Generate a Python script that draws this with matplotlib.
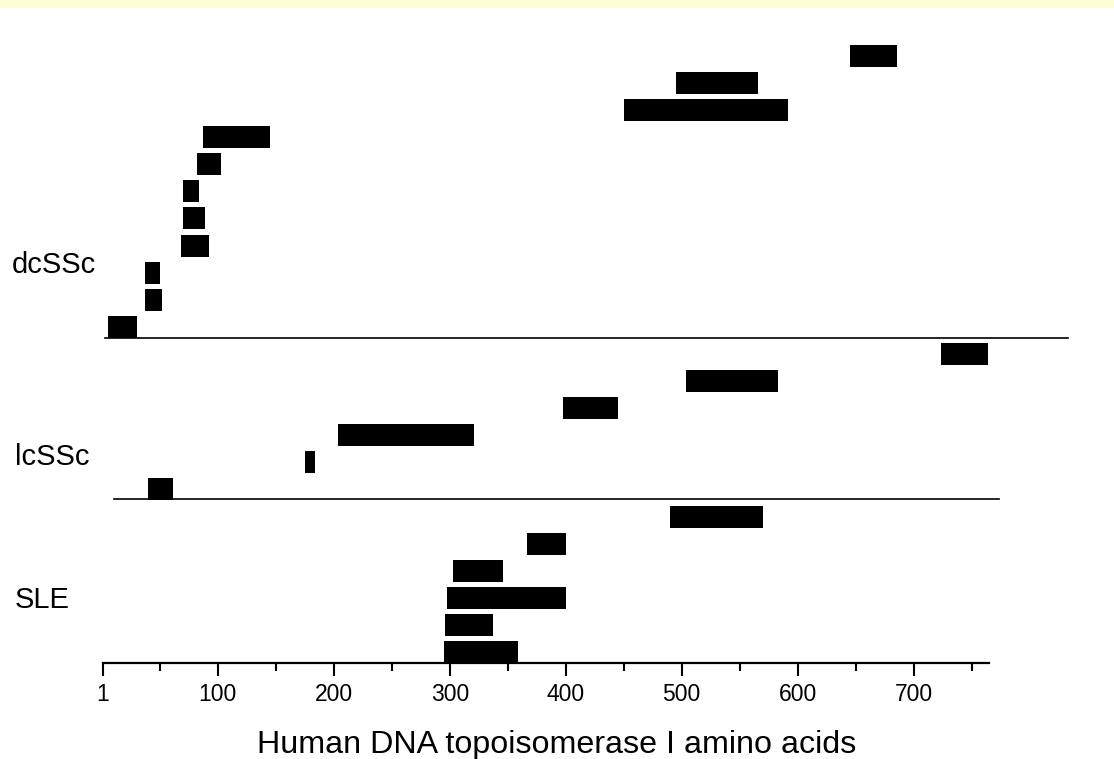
import matplotlib
matplotlib.use("Agg")
import matplotlib.pyplot as plt
from matplotlib.patches import Rectangle
from matplotlib.ticker import FixedLocator

# ---- data (amino-acid ranges of each fragment, bottom row first) ----
dcssc_start = [5, 37, 37, 68, 70, 70, 82, 87, 450, 495, 645]
dcssc_end   = [30, 52, 50, 92, 89, 84, 103, 145, 592, 566, 686]
lcssc_start = [40, 175, 204, 398, 504, 724]
lcssc_end   = [61, 184, 321, 445, 583, 764]
sle_start   = [295, 296, 298, 303, 367, 490]
sle_end     = [359, 337, 400, 346, 400, 570]
group_names = ["dcSSc", "lcSSc", "SLE"]
tick_values = [1, 100, 200, 300, 400, 500, 600, 700]
minor_ticks = [50, 150, 250, 350, 450, 550, 650, 750]
xlabel_text = "Human DNA topoisomerase I amino acids"

plt.rcParams['font.family'] = ['Liberation Sans', 'DejaVu Sans']

W, H = 1114, 759
fig = plt.figure(figsize=(W / 100, H / 100), dpi=100)
fig.patch.set_facecolor('white')

# light yellow strip at top
fig.patches.append(Rectangle((0, 1 - 8 / H), 1, 8 / H, transform=fig.transFigure,
                             facecolor='#FFFFD5', edgecolor='none', zorder=0))

# axes geometry (pixels)
x0_px, x1_px = 103, 989
y0_px = 663
row_px = 27.1
ymax = 23.5
ax = fig.add_axes([x0_px / W, (H - y0_px) / H, (x1_px - x0_px) / W, ymax * row_px / H])
ax.set_xlim(1, 765)
ax.set_ylim(0, ymax)
ax.patch.set_alpha(0)

bar_h = 0.81
groups = [(sle_start, sle_end, 0), (lcssc_start, lcssc_end, 6), (dcssc_start, dcssc_end, 12)]
for starts, ends, base in groups:
    for i, (s, e) in enumerate(zip(starts, ends)):
        ax.barh(base + i, e - s, left=s, height=bar_h, align='edge',
                color='black', edgecolor='none')

# separator lines between groups
ax.plot([2.7, 833], [12, 12], color='black', lw=1.2, clip_on=False)
ax.plot([10.5, 774], [6.05, 6.05], color='black', lw=1.2, clip_on=False)

# spines / ticks
for sp in ['top', 'right', 'left']:
    ax.spines[sp].set_visible(False)
ax.spines['bottom'].set_linewidth(1.6)
ax.set_yticks([])
ax.xaxis.set_major_locator(FixedLocator(tick_values))
ax.set_xticklabels([str(v) for v in tick_values])
ax.xaxis.set_minor_locator(FixedLocator(minor_ticks))
ax.tick_params(axis='x', which='major', direction='out', length=9.5, width=1.5,
               labelsize=16.5, pad=5)
ax.tick_params(axis='x', which='minor', direction='out', length=5.8, width=1.5)

ax.set_xlabel(xlabel_text, fontsize=23.2)
ax.xaxis.set_label_coords((556.5 - x0_px) / (x1_px - x0_px), -(753 - y0_px) / (ymax * row_px))
ax.xaxis.label.set_va('baseline')

# group labels
label_pos = [(12, 273), (15, 465), (15, 608)]
for name, (px, py) in zip(group_names, label_pos):
    fig.text(px / W, 1 - py / H, name, fontsize=21, ha='left', va='baseline')

fig.savefig("out.png", dpi=100, facecolor='white')
